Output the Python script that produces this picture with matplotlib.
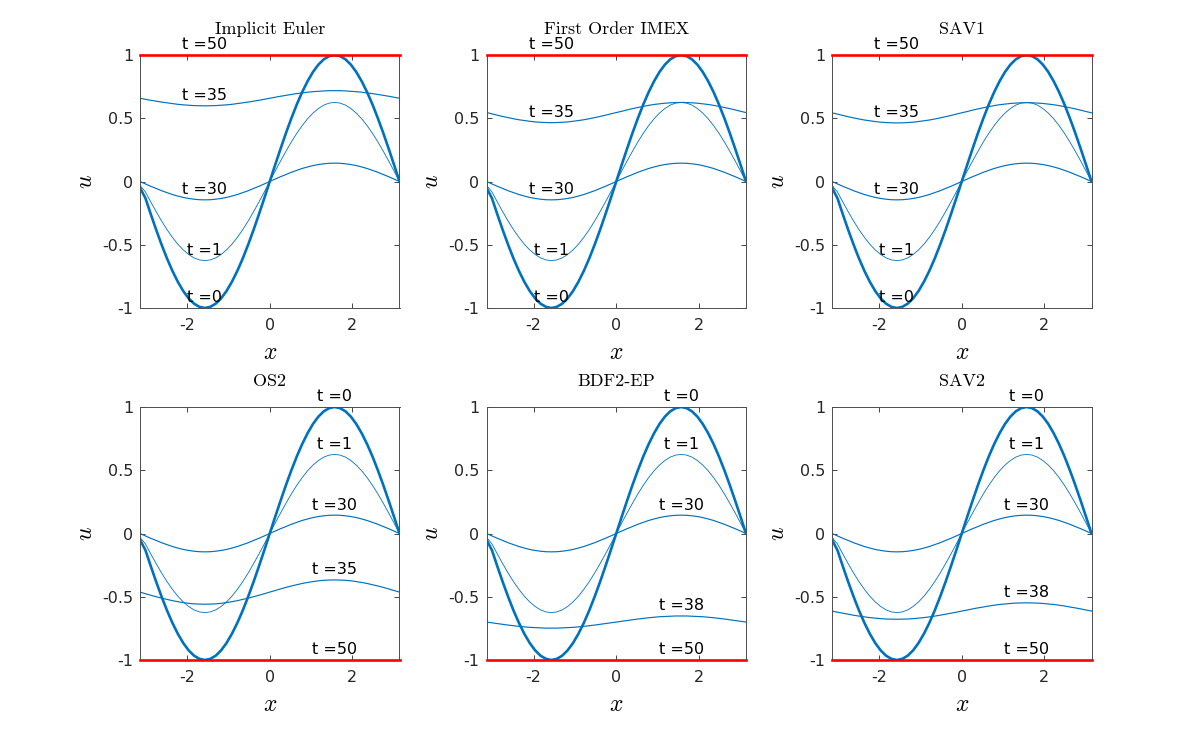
import numpy as np
import matplotlib
matplotlib.use("Agg")
import matplotlib.pyplot as plt

plt.rcParams["mathtext.fontset"] = "cm"
plt.rcParams["font.family"] = ["DejaVu Sans"]

# ---------------- data ----------------
TITLES = ["Implicit Euler", "First Order IMEX", "SAV1", "OS2", "BDF2-EP", "SAV2"]

N_NODES = 49  # sample points of u on [-pi, pi]

U_T0 = [-0.050, -0.131, -0.259, -0.383, -0.500, -0.609, -0.707, -0.793, -0.866, -0.924, -0.966, -0.991,
        -1.000, -0.991, -0.966, -0.924, -0.866, -0.793, -0.707, -0.609, -0.500, -0.383, -0.259, -0.131,
        0.000, 0.131, 0.259, 0.383, 0.500, 0.609, 0.707, 0.793, 0.866, 0.924, 0.966, 0.991,
        1.000, 0.991, 0.966, 0.924, 0.866, 0.793, 0.707, 0.609, 0.500, 0.383, 0.259, 0.131, 0.000]
U_T1 = [-0.030, -0.082, -0.162, -0.239, -0.313, -0.381, -0.442, -0.496, -0.541, -0.577, -0.604, -0.620,
        -0.625, -0.620, -0.604, -0.577, -0.541, -0.496, -0.442, -0.381, -0.313, -0.239, -0.162, -0.082,
        0.000, 0.082, 0.162, 0.239, 0.313, 0.381, 0.442, 0.496, 0.541, 0.577, 0.604, 0.620,
        0.625, 0.620, 0.604, 0.577, 0.541, 0.496, 0.442, 0.381, 0.313, 0.239, 0.162, 0.082, 0.000]
U_T30 = [0.000, -0.019, -0.038, -0.055, -0.073, -0.088, -0.103, -0.115, -0.126, -0.134, -0.140, -0.144,
         -0.145, -0.144, -0.140, -0.134, -0.126, -0.115, -0.103, -0.088, -0.073, -0.055, -0.038, -0.019,
         0.000, 0.019, 0.038, 0.055, 0.073, 0.088, 0.103, 0.115, 0.126, 0.134, 0.140, 0.144,
         0.145, 0.144, 0.140, 0.134, 0.126, 0.115, 0.103, 0.088, 0.073, 0.055, 0.038, 0.019, 0.000]

U_MID_IE = [0.658, 0.650, 0.642, 0.635, 0.628, 0.622, 0.616, 0.610, 0.606, 0.603, 0.600, 0.599,
            0.598, 0.599, 0.600, 0.603, 0.606, 0.610, 0.616, 0.622, 0.628, 0.635, 0.642, 0.650,
            0.658, 0.666, 0.674, 0.681, 0.688, 0.695, 0.700, 0.706, 0.710, 0.713, 0.716, 0.718,
            0.718, 0.718, 0.716, 0.713, 0.710, 0.706, 0.700, 0.695, 0.688, 0.681, 0.674, 0.666, 0.658]
U_MID_IMEX = [0.545, 0.535, 0.524, 0.514, 0.505, 0.496, 0.488, 0.482, 0.476, 0.471, 0.468, 0.466,
              0.465, 0.466, 0.468, 0.471, 0.476, 0.482, 0.488, 0.496, 0.505, 0.514, 0.524, 0.535,
              0.545, 0.555, 0.566, 0.576, 0.585, 0.594, 0.602, 0.609, 0.614, 0.619, 0.622, 0.624,
              0.625, 0.624, 0.622, 0.619, 0.614, 0.609, 0.602, 0.594, 0.585, 0.576, 0.566, 0.555, 0.545]
U_MID_SAV1 = [0.543, 0.533, 0.522, 0.512, 0.503, 0.494, 0.486, 0.480, 0.474, 0.469, 0.466, 0.464,
              0.463, 0.464, 0.466, 0.469, 0.474, 0.480, 0.486, 0.494, 0.503, 0.512, 0.522, 0.533,
              0.543, 0.553, 0.564, 0.574, 0.583, 0.592, 0.600, 0.607, 0.612, 0.617, 0.620, 0.622,
              0.623, 0.622, 0.620, 0.617, 0.612, 0.607, 0.600, 0.592, 0.583, 0.574, 0.564, 0.553, 0.543]
U_MID_OS2 = [-0.463, -0.476, -0.488, -0.500, -0.511, -0.521, -0.531, -0.539, -0.546, -0.552, -0.556, -0.558,
             -0.559, -0.558, -0.556, -0.552, -0.546, -0.539, -0.531, -0.521, -0.511, -0.500, -0.488, -0.476,
             -0.463, -0.451, -0.438, -0.426, -0.415, -0.405, -0.395, -0.387, -0.380, -0.374, -0.370, -0.368,
             -0.367, -0.368, -0.370, -0.374, -0.380, -0.387, -0.395, -0.405, -0.415, -0.426, -0.438, -0.451, -0.463]
U_MID_BDF = [-0.700, -0.706, -0.712, -0.718, -0.724, -0.729, -0.734, -0.738, -0.742, -0.744, -0.746, -0.748,
             -0.748, -0.748, -0.746, -0.744, -0.742, -0.738, -0.734, -0.729, -0.724, -0.718, -0.712, -0.706,
             -0.700, -0.694, -0.688, -0.682, -0.676, -0.671, -0.666, -0.662, -0.658, -0.656, -0.654, -0.652,
             -0.652, -0.652, -0.654, -0.656, -0.658, -0.662, -0.666, -0.671, -0.676, -0.682, -0.688, -0.694, -0.700]
U_MID_SAV2 = [-0.613, -0.622, -0.630, -0.638, -0.646, -0.653, -0.659, -0.665, -0.669, -0.673, -0.676, -0.677,
              -0.678, -0.677, -0.676, -0.673, -0.669, -0.665, -0.659, -0.653, -0.646, -0.638, -0.630, -0.622,
              -0.613, -0.605, -0.596, -0.588, -0.581, -0.573, -0.567, -0.561, -0.557, -0.553, -0.550, -0.549,
              -0.548, -0.549, -0.550, -0.553, -0.557, -0.561, -0.567, -0.573, -0.581, -0.588, -0.596, -0.605, -0.613]

U_MID = [U_MID_IE, U_MID_IMEX, U_MID_SAV1, U_MID_OS2, U_MID_BDF, U_MID_SAV2]
MID_TIMES = [35, 35, 35, 35, 38, 38]
T50_LEVEL = [1, 1, 1, -1, -1, -1]

X_TICKS = [-2, 0, 2]
X_TICK_LABELS = ["-2", "0", "2"]
Y_TICKS = [-1, -0.5, 0, 0.5, 1]
Y_TICK_LABELS = ["-1", "-0.5", "0", "0.5", "1"]

# ---------------- style ----------------
BLUE = "#0072BD"
RED = "#FF0000"
AX_COLOR = "#4d4d4d"
W, H = 1184, 731
LEFTS = [140, 486.5, 832]
TOPS = [55, 407]
AW, AH = 259.5, 253

fig = plt.figure(figsize=(W / 100, H / 100), dpi=100)
x = np.linspace(-np.pi, np.pi, N_NODES)

for i in range(6):
    r, c = divmod(i, 3)
    ax = fig.add_axes([LEFTS[c] / W, 1 - (TOPS[r] + AH) / H, AW / W, AH / H])

    u0, u1, u30, um = map(np.asarray, (U_T0, U_T1, U_T30, U_MID[i]))
    ax.plot(x, u0, color=BLUE, lw=1.9, solid_joinstyle="round")
    ax.plot(x, u1, color=BLUE, lw=0.6)
    ax.plot(x, u30, color=BLUE, lw=0.85)
    ax.plot(x, um, color=BLUE, lw=0.85)
    ax.plot(x, np.full(N_NODES, T50_LEVEL[i]), color=RED, lw=1.9, clip_on=False, zorder=5)

    # labels: top row at x=-pi/2, bottom row at x=pi/2
    k = 12 if r == 0 else 36
    xl = x[k]
    off = 0.08
    labels = [(u0[k], "t =0"), (u1[k], "t =1"), (u30[k], "t =30"),
              (um[k], f"t ={MID_TIMES[i]}"), (T50_LEVEL[i], "t =50")]
    for yv, s in labels:
        ax.text(xl, yv + off, s, ha="center", va="center", fontsize=11.5,
                color="black", zorder=6, clip_on=False)

    ax.set_xlim(-np.pi, np.pi)
    ax.set_ylim(-1, 1)
    ax.set_xticks(X_TICKS)
    ax.set_xticklabels(X_TICK_LABELS)
    ax.set_yticks(Y_TICKS)
    ax.set_yticklabels(Y_TICK_LABELS)
    ax.tick_params(direction="in", length=3.5, width=0.6, top=True, right=True,
                   labelsize=11.5, colors="#262626")
    ax.tick_params(axis="x", pad=7)
    ax.tick_params(axis="y", pad=5)
    for sp in ax.spines.values():
        sp.set_color(AX_COLOR)
        sp.set_linewidth(0.7)

    ax.set_title(TITLES[i], family="cmr10", fontsize=13, pad=15)
    ax.set_xlabel("$x$", fontsize=17)
    ax.set_ylabel("$u$", fontsize=17)
    ax.xaxis.set_label_coords(0.5, -44 / AH)
    ax.xaxis.label.set_va("center")
    ax.yaxis.set_label_coords(-55 / AW, 0.5)
    ax.yaxis.label.set_va("center")

fig.savefig("out.png", dpi=100)
